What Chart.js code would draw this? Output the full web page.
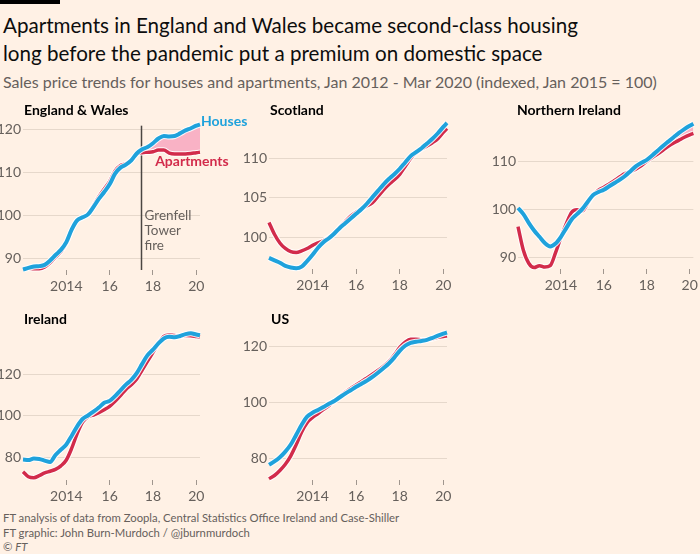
<!DOCTYPE html>
<html>
<head>
<meta charset="utf-8">
<script src="https://cdn.jsdelivr.net/npm/chart.js@4.4.1/dist/chart.umd.min.js"></script>
<style>
  body { margin: 0; background: #fff1e5; width: 700px; height: 554px; overflow: hidden; position: relative; font-family: Lato, sans-serif; }
  .bar { position: absolute; left: 0; top: 0; width: 60px; height: 4px; background: #000; }
  .title { position: absolute; left: 3px; top: 11px; font-size: 20.6px; line-height: 28px; color: #0d0d0d; white-space: nowrap; }
  .sub { position: absolute; left: 3px; top: 72px; font-size: 16px; line-height: 20px; color: #66605c; white-space: nowrap; }
  .ptitle { position: absolute; font-size: 14px; font-weight: bold; color: #000; line-height: 18px; white-space: nowrap; }
  .foot { position: absolute; left: 3px; top: 511px; font-size: 11.3px; line-height: 14.5px; color: #66605c; white-space: nowrap; }
  canvas { position: absolute; }
</style>
</head>
<body>
<div class="bar"></div>
<div class="title">Apartments in England and Wales became second-class housing<br>long before the pandemic put a premium on domestic space</div>
<div class="sub">Sales price trends for houses and apartments, Jan 2012 - Mar 2020 (indexed, Jan 2015 = 100)</div>
<div class="foot">FT analysis of data from Zoopla, Central Statistics Office Ireland and Case-Shiller<br>FT graphic: John Burn-Murdoch / @jburnmurdoch<br>© <i>FT</i></div>

<script>
// quarterly points, Jan 2012 .. Mar 2020 (decimal years)
const dates = [2012, 2012.25, 2012.5, 2012.75, 2013, 2013.25, 2013.5, 2013.75,
  2014, 2014.25, 2014.5, 2014.75, 2015, 2015.25, 2015.5, 2015.75,
  2016, 2016.25, 2016.5, 2016.75, 2017, 2017.25, 2017.5, 2017.75,
  2018, 2018.25, 2018.5, 2018.75, 2019, 2019.25, 2019.5, 2019.75, 2020, 2020.17];

const ewHouses = [87.4, 87.8, 88.1, 88.2, 88.5, 89.5, 90.8, 92.0, 93.8, 96.8, 98.9, 99.6, 100.3, 102.0, 103.9, 105.5,
  107.3, 109.8, 111.2, 111.9, 112.9, 114.5, 115.5, 116.0, 116.9, 118.0, 118.6, 118.5, 118.6, 119.2, 119.9, 120.4, 121.0, 121.3];
const ewFlats = [87.6, 87.7, 87.6, 87.6, 88.0, 89.0, 90.3, 91.6, 93.6, 96.7, 98.9, 99.6, 100.3, 102.3, 104.4, 106.2,
  108.0, 110.4, 111.7, 112.1, 113.0, 114.4, 114.7, 114.8, 114.9, 115.3, 115.3, 114.6, 114.4, 114.4, 114.4, 114.5, 114.7, 114.8];

const scoHouses = [97.4, 97.1, 96.8, 96.4, 96.2, 96.1, 96.3, 97.0, 97.8, 98.7, 99.4, 99.9, 100.5, 101.2, 101.8, 102.4,
  103.0, 103.6, 104.3, 105.1, 105.9, 106.7, 107.4, 108.0, 108.7, 109.5, 110.3, 110.8, 111.3, 111.9, 112.5, 113.2, 114.0, 114.5];
const scoFlats = [101.9, 100.4, 99.3, 98.6, 98.2, 98.1, 98.3, 98.6, 99.0, 99.3, 99.6, 100.0, 100.5, 101.3, 102.0, 102.7,
  103.2, 103.6, 104.0, 104.4, 105.2, 106.0, 106.7, 107.3, 108.0, 109.0, 110.0, 110.7, 111.2, 111.6, 112.0, 112.5, 113.3, 113.8];

const niHouses = [100.3, 99.0, 97.2, 95.6, 94.3, 93.0, 92.3, 92.9, 94.3, 96.1, 97.9, 99.0, 100.1, 101.6, 103.0, 103.6,
  104.1, 104.8, 105.5, 106.2, 107.0, 108.0, 109.0, 109.7, 110.3, 111.2, 112.2, 113.2, 114.1, 115.0, 115.9, 116.7, 117.4, 117.8];
const niFlats = [96.4, 91.5, 88.8, 87.9, 88.3, 88.0, 88.3, 91.0, 94.2, 97.0, 99.4, 99.9, 99.7, 101.3, 103.0, 104.0,
  104.6, 105.3, 106.0, 106.8, 107.5, 107.9, 108.4, 109.1, 110.0, 110.8, 111.5, 112.3, 113.1, 113.8, 114.4, 115.0, 115.5, 115.8];

const ieHouses = [79.0, 78.8, 79.5, 79.3, 78.5, 77.8, 81.2, 83.8, 86.3, 90.5, 95.0, 98.5, 100.2, 102.0, 104.0, 106.3,
  107.2, 109.5, 112.3, 115.0, 117.3, 120.5, 125.0, 129.2, 131.8, 134.8, 137.2, 138.0, 137.8, 138.4, 139.3, 139.7, 139.1, 138.8];
const ieFlats = [73.2, 70.8, 70.3, 71.3, 72.6, 73.4, 74.3, 76.0, 78.8, 84.5, 91.5, 97.0, 99.6, 100.4, 101.6, 103.0,
  104.6, 107.0, 109.8, 112.7, 115.0, 117.8, 122.0, 126.3, 130.5, 134.8, 138.2, 138.9, 138.6, 138.4, 138.6, 138.5, 138.2, 138.0];

const usHouses = [77.8, 79.0, 80.5, 82.5, 85.0, 88.5, 92.0, 94.9, 96.3, 97.3, 98.3, 99.5, 100.5, 101.8, 103.1, 104.3,
  105.5, 106.6, 107.7, 109.0, 110.5, 112.1, 113.8, 115.9, 118.3, 120.1, 121.1, 121.5, 121.8, 122.2, 122.9, 123.7, 124.4, 124.8];
const usFlats = [72.8, 74.0, 75.8, 78.0, 81.0, 85.0, 89.5, 92.8, 94.6, 96.0, 97.5, 98.8, 100.5, 102.0, 103.6, 104.9,
  106.2, 107.4, 108.7, 110.0, 111.3, 112.8, 114.5, 116.8, 119.5, 121.4, 122.4, 122.4, 122.2, 122.2, 122.6, 123.1, 123.4, 123.6];

const xTickYears = [2014, 2016, 2018, 2020];
const xTickLabels = ['2014', '16', '18', '20'];
const ewTicks = [90, 100, 110, 120];
const scoTicks = [100, 105, 110];
const niTicks = [90, 100, 110];
const ieTicks = [80, 100, 120];
const usTicks = [80, 100, 120];
const grenfell = 2017.45;

const BLUE = '#1fa2dc';
const RED = '#d22b4b';
const PINK = '#f9b2c5';
const HALO = 'rgba(255,255,255,0.9)';
const GREY = '#66605c';

const AXW = 34, AXH = 28, PADT = 6;

// box = plot area [left, top, right, bottom] in page pixels
const panels = [
  { title: 'England & Wales', houses: ewHouses, flats: ewFlats, ticks: ewTicks, y: [87.3, 122],
    box: [23.4, 116.5, 200.4, 269.2], padR: 48, fillFrom: 2017.5, grenfell: true, tx: 24, ty: 101 },
  { title: 'Scotland', houses: scoHouses, flats: scoFlats, ticks: scoTicks, y: [96.0, 114.7],
    box: [268.7, 116.5, 447.0, 268.5], padR: 12, tx: 270, ty: 101 },
  { title: 'Northern Ireland', houses: niHouses, flats: niFlats, ticks: niTicks, y: [87.6, 118.3],
    box: [517.5, 116.5, 693.0, 268.5], padR: 7, fillFrom: 2018.25, tx: 517, ty: 101 },
  { title: 'Ireland', houses: ieHouses, flats: ieFlats, ticks: ieTicks, y: [69.2, 140.6],
    box: [23.4, 327, 200.4, 480], padR: 12, tx: 24, ty: 310 },
  { title: 'US', houses: usHouses, flats: usFlats, ticks: usTicks, y: [72.4, 125.2],
    box: [268.7, 327, 447.0, 480], padR: 12, tx: 271, ty: 310 }
];

function series(vals, from) {
  return dates.map((d, i) => ({ x: d, y: vals[i] })).slice(from || 0);
}

const ewLabels = {
  id: 'ewLabels',
  beforeDatasetsDraw(chart) {
    const { ctx, scales: { x, y } } = chart;
    const gx = Math.round(x.getPixelForValue(grenfell)) + 0.5;
    ctx.save();
    ctx.strokeStyle = '#4a4542';
    ctx.lineWidth = 1.5;
    ctx.beginPath();
    ctx.moveTo(gx, y.getPixelForValue(121.0));
    ctx.lineTo(gx, chart.chartArea.bottom);
    ctx.stroke();
    ctx.fillStyle = GREY;
    ctx.font = '13.5px Lato';
    ctx.textBaseline = 'middle';
    ['Grenfell', 'Tower', 'fire'].forEach((t, i) => ctx.fillText(t, gx + 3, y.getPixelForValue(100.1) + i * 15));
    ctx.restore();
  },
  afterDatasetsDraw(chart) {
    const { ctx, scales: { x, y } } = chart;
    const n = dates.length - 1;
    ctx.save();
    ctx.font = 'bold 14px Lato';
    ctx.textBaseline = 'middle';
    ctx.fillStyle = BLUE;
    ctx.fillText('Houses', x.getPixelForValue(dates[n]) + 1, y.getPixelForValue(ewHouses[n]) - 3);
    ctx.fillStyle = RED;
    ctx.fillText('Apartments', x.getPixelForValue(2018.1), y.getPixelForValue(ewFlats[n]) + 9);
    ctx.restore();
  }
};

function makePanel(p) {
  const [l, t, r, b] = p.box;
  const cv = document.createElement('canvas');
  const w = Math.round(AXW + (r - l) + p.padR);
  const h = Math.round(PADT + (b - t) + AXH);
  cv.width = w; cv.height = h;
  cv.style.left = (l - AXW) + 'px';
  cv.style.top = (t - PADT) + 'px';
  document.body.appendChild(cv);

  const tt = document.createElement('div');
  tt.className = 'ptitle';
  tt.style.left = p.tx + 'px';
  tt.style.top = p.ty + 'px';
  tt.textContent = p.title;
  document.body.appendChild(tt);

  const line = { pointRadius: 0, cubicInterpolationMode: 'monotone', clip: false, fill: false };
  const datasets = [
    Object.assign({ data: series(p.houses), borderColor: BLUE, borderWidth: 4, order: 0 }, line),
    Object.assign({ data: series(p.houses), borderColor: HALO, borderWidth: 6, order: 1 }, line),
    Object.assign({ data: series(p.flats), borderColor: RED, borderWidth: 3.5, order: 2 }, line),
    Object.assign({ data: series(p.flats), borderColor: HALO, borderWidth: 5.5, order: 3 }, line)
  ];
  if (p.fillFrom) {
    const k = dates.findIndex(d => d >= p.fillFrom);
    datasets.push(Object.assign({}, line, { data: series(p.houses, k), borderWidth: 0, borderColor: 'transparent', backgroundColor: PINK, fill: '+1', order: 5 }));
    datasets.push(Object.assign({}, line, { data: series(p.flats, k), borderWidth: 0, borderColor: 'transparent', order: 6 }));
  }

  const tickFont = { family: 'Lato', size: 14 };
  new Chart(cv.getContext('2d'), {
    type: 'line',
    data: { datasets },
    options: {
      responsive: false,
      animation: false,
      events: [],
      layout: { padding: { top: PADT, right: p.padR, left: 0, bottom: 0 } },
      plugins: { legend: { display: false }, tooltip: { enabled: false } },
      scales: {
        x: {
          type: 'linear', min: 2012, max: 2020.17,
          afterBuildTicks: s => { s.ticks = xTickYears.map(v => ({ value: v })); },
          afterFit: s => { s.height = AXH; },
          ticks: { callback: v => xTickLabels[xTickYears.indexOf(v)], font: tickFont, color: GREY, padding: 3, maxRotation: 0, autoSkip: false },
          grid: { drawOnChartArea: false, drawTicks: true, tickLength: 5, color: '#a0968e' },
          border: { display: false }
        },
        y: {
          min: p.y[0], max: p.y[1],
          afterBuildTicks: s => { s.ticks = p.ticks.map(v => ({ value: v })); },
          afterFit: s => { s.width = AXW; },
          ticks: { font: tickFont, color: GREY, padding: 2 },
          grid: { drawTicks: false, color: '#e6d8cb' },
          border: { display: false }
        }
      }
    },
    plugins: p.grenfell ? [ewLabels] : []
  });
}

Promise.all([document.fonts.load('14px Lato'), document.fonts.load('bold 14px Lato')])
  .catch(() => {})
  .then(() => panels.forEach(makePanel));
</script>
</body>
</html>
